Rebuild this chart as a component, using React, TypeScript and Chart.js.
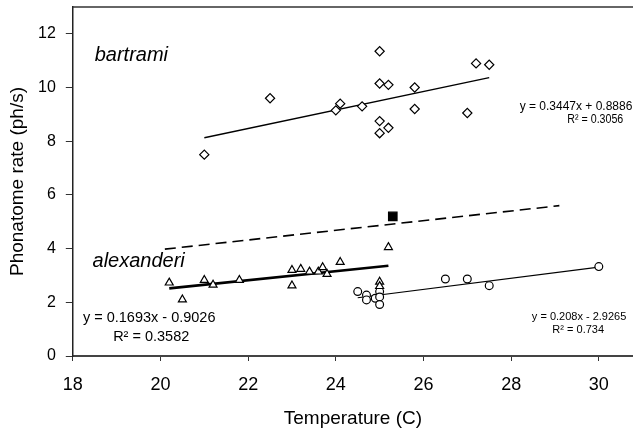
import { useEffect, useRef } from 'react';
import { Chart, registerables } from 'chart.js';

Chart.register(...registerables);

// Temperature (C) and phonatome rate (ph/s)
const bartramiTemp = [21.0, 22.5, 24.0, 24.1, 24.6, 25.0, 25.0, 25.2, 25.0, 25.2, 25.0, 25.8, 25.8, 27.0, 27.2, 27.5];
const bartramiRate = [7.5, 9.6, 9.15, 9.4, 9.3, 11.35, 10.15, 10.1, 8.75, 8.5, 8.3, 10.0, 9.2, 9.05, 10.9, 10.85];

const alexanderiTemp = [20.2, 20.5, 21.0, 21.2, 21.8, 23.0, 23.0, 23.2, 23.4, 23.6, 23.7, 23.8, 24.1, 25.0, 25.0, 25.2];
const alexanderiRate = [2.73, 2.1, 2.83, 2.65, 2.83, 3.2, 2.62, 3.24, 3.14, 3.14, 3.3, 3.05, 3.5, 2.76, 2.6, 4.05];

const circleTemp = [24.5, 24.7, 24.7, 24.9, 25.0, 25.0, 25.0, 26.5, 27.0, 27.5, 30.0];
const circleRate = [2.4, 2.27, 2.09, 2.15, 2.4, 2.2, 1.92, 2.87, 2.87, 2.62, 3.33];

const squareTemp = [25.3];
const squareRate = [5.2];

// Trend lines (end points)
const bartramiTrendTemp = [21.0, 27.5];
const bartramiTrendRate = [8.13, 10.37];
const alexanderiTrendTemp = [20.2, 25.2];
const alexanderiTrendRate = [2.52, 3.36];
const circleTrendTemp = [24.5, 30.0];
const circleTrendRate = [2.17, 3.31];
const dashedTemp = [20.1, 29.1];
const dashedRate = [3.98, 5.6];

const xTickValues = [18, 20, 22, 24, 26, 28, 30];
const yTickValues = [0, 2, 4, 6, 8, 10, 12];

const bartramiEq = ['y = 0.3447x + 0.8886', 'R\u00B2 = 0.3056'];
const alexanderiEq = ['y = 0.1693x - 0.9026', 'R\u00B2 = 0.3582'];
const circleEq = ['y = 0.208x - 2.9265', 'R\u00B2 = 0.734'];

const FONT = '"Liberation Sans", Arial, sans-serif';

function pts(xs: number[], ys: number[]) {
  return xs.map((x, i) => ({ x, y: ys[i] }));
}

export default function App() {
  const ref = useRef<HTMLCanvasElement>(null);

  useEffect(() => {
    if (!ref.current) return;

    const annotations = {
      id: 'annotations',
      afterDraw(chart: any) {
        const { ctx, chartArea } = chart;
        const xs = chart.scales.x;
        const ys = chart.scales.y;
        const px = (v: number) => xs.getPixelForValue(v);
        const py = (v: number) => ys.getPixelForValue(v);
        ctx.save();
        // top frame line
        ctx.strokeStyle = '#333';
        ctx.lineWidth = 1.5;
        ctx.beginPath();
        ctx.moveTo(chartArea.left, chartArea.top);
        ctx.lineTo(chartArea.right, chartArea.top);
        ctx.stroke();

        ctx.fillStyle = '#000';
        // species names
        ctx.font = `italic 20px ${FONT}`;
        ctx.textAlign = 'left';
        ctx.textBaseline = 'alphabetic';
        ctx.fillText('bartrami', px(18.5), py(11.0));
        ctx.fillText('alexanderi', px(18.45), py(3.31));

        ctx.textBaseline = 'middle';
        // alexanderi equation
        ctx.font = `14.5px ${FONT}`;
        ctx.textAlign = 'left';
        ctx.fillText(alexanderiEq[0], px(18.23), py(1.415));
        ctx.fillText(alexanderiEq[1], px(18.92), py(0.71));

        // bartrami equation
        ctx.font = `12px ${FONT}`;
        ctx.textAlign = 'center';
        ctx.fillText(bartramiEq[0], px(29.48), py(9.27), 113);
        ctx.fillText(bartramiEq[1], px(29.92), py(8.8), 56);

        // circle equation
        ctx.font = `11px ${FONT}`;
        ctx.fillText(circleEq[0], px(29.55), py(1.45));
        ctx.fillText(circleEq[1], px(29.53), py(0.97));
        ctx.restore();
      },
    };

    const pointBase = {
      type: 'scatter' as const,
      showLine: false,
      backgroundColor: '#fff',
      borderColor: '#000',
      pointBorderWidth: 1.2,
      order: 1,
    };
    const lineBase = {
      type: 'scatter' as const,
      showLine: true,
      pointRadius: 0,
      borderColor: '#000',
      fill: false,
      order: 2,
    };

    const chart = new Chart(ref.current, {
      type: 'scatter',
      data: {
        datasets: [
          { ...pointBase, label: 'bartrami', data: pts(bartramiTemp, bartramiRate), pointStyle: 'rectRot', pointRadius: 4.6 },
          { ...pointBase, label: 'alexanderi', data: pts(alexanderiTemp, alexanderiRate), pointStyle: 'triangle', pointRadius: 4.6 },
          { ...pointBase, label: 'other', data: pts(circleTemp, circleRate), pointStyle: 'circle', pointRadius: 3.9 },
          { ...pointBase, label: 'filled', data: pts(squareTemp, squareRate), pointStyle: 'rect', pointRadius: 6, backgroundColor: '#000', order: 0 },
          { ...lineBase, label: 'bartrami fit', data: pts(bartramiTrendTemp, bartramiTrendRate), borderWidth: 1.3 },
          { ...lineBase, label: 'alexanderi fit', data: pts(alexanderiTrendTemp, alexanderiTrendRate), borderWidth: 2.6 },
          { ...lineBase, label: 'other fit', data: pts(circleTrendTemp, circleTrendRate), borderWidth: 1.1 },
          { ...lineBase, label: 'dashed', data: pts(dashedTemp, dashedRate), borderWidth: 1.6, borderDash: [11, 6] },
        ],
      },
      options: {
        animation: false,
        responsive: false,
        events: [],
        layout: { autoPadding: false, padding: { top: 7, right: 0, bottom: 0, left: 0 } },
        plugins: {
          legend: { display: false },
          tooltip: { enabled: false },
        },
        scales: {
          x: {
            type: 'linear',
            min: 18,
            max: 30.78,
            afterBuildTicks: (s: any) => {
              s.ticks = xTickValues.map((v) => ({ value: v }));
            },
            afterFit: (s: any) => {
              s.height = 76;
              s.paddingLeft = 0;
              s.paddingRight = 0;
            },
            ticks: {
              font: { family: FONT, size: 18 },
              color: '#000',
              padding: 13,
              maxRotation: 0,
              autoSkip: false,
            },
            grid: { drawOnChartArea: false, drawTicks: true, tickLength: 5, color: '#333', lineWidth: 1 },
            border: { display: true, color: '#444', width: 2 },
            title: {
              display: true,
              text: 'Temperature (C)',
              color: '#000',
              font: { family: FONT, size: 19 },
              padding: { top: 0, bottom: 2 },
            },
          },
          y: {
            type: 'linear',
            min: 0,
            max: 13,
            afterBuildTicks: (s: any) => {
              s.ticks = yTickValues.map((v) => ({ value: v }));
            },
            afterFit: (s: any) => {
              s.width = 72.8;
              s.paddingTop = 0;
              s.paddingBottom = 0;
            },
            ticks: {
              font: { family: FONT, size: 16 },
              color: '#000',
              padding: 10,
              autoSkip: false,
            },
            grid: { drawOnChartArea: false, drawTicks: true, tickLength: 7, color: '#333', lineWidth: 1 },
            border: { display: true, color: '#222', width: 1.5 },
            title: {
              display: true,
              text: 'Phonatome rate (ph/s)',
              color: '#000',
              font: { family: FONT, size: 19 },
              padding: { top: 6, bottom: 0 },
            },
          },
        },
      },
      plugins: [annotations],
    } as any);

    return () => chart.destroy();
  }, []);

  return (
    <div style={{ position: 'absolute', left: 0, top: 0, width: 633, height: 432, background: '#fff', overflow: 'hidden' }}>
      <canvas ref={ref} width={633} height={432} style={{ display: 'block' }} />
    </div>
  );
}
